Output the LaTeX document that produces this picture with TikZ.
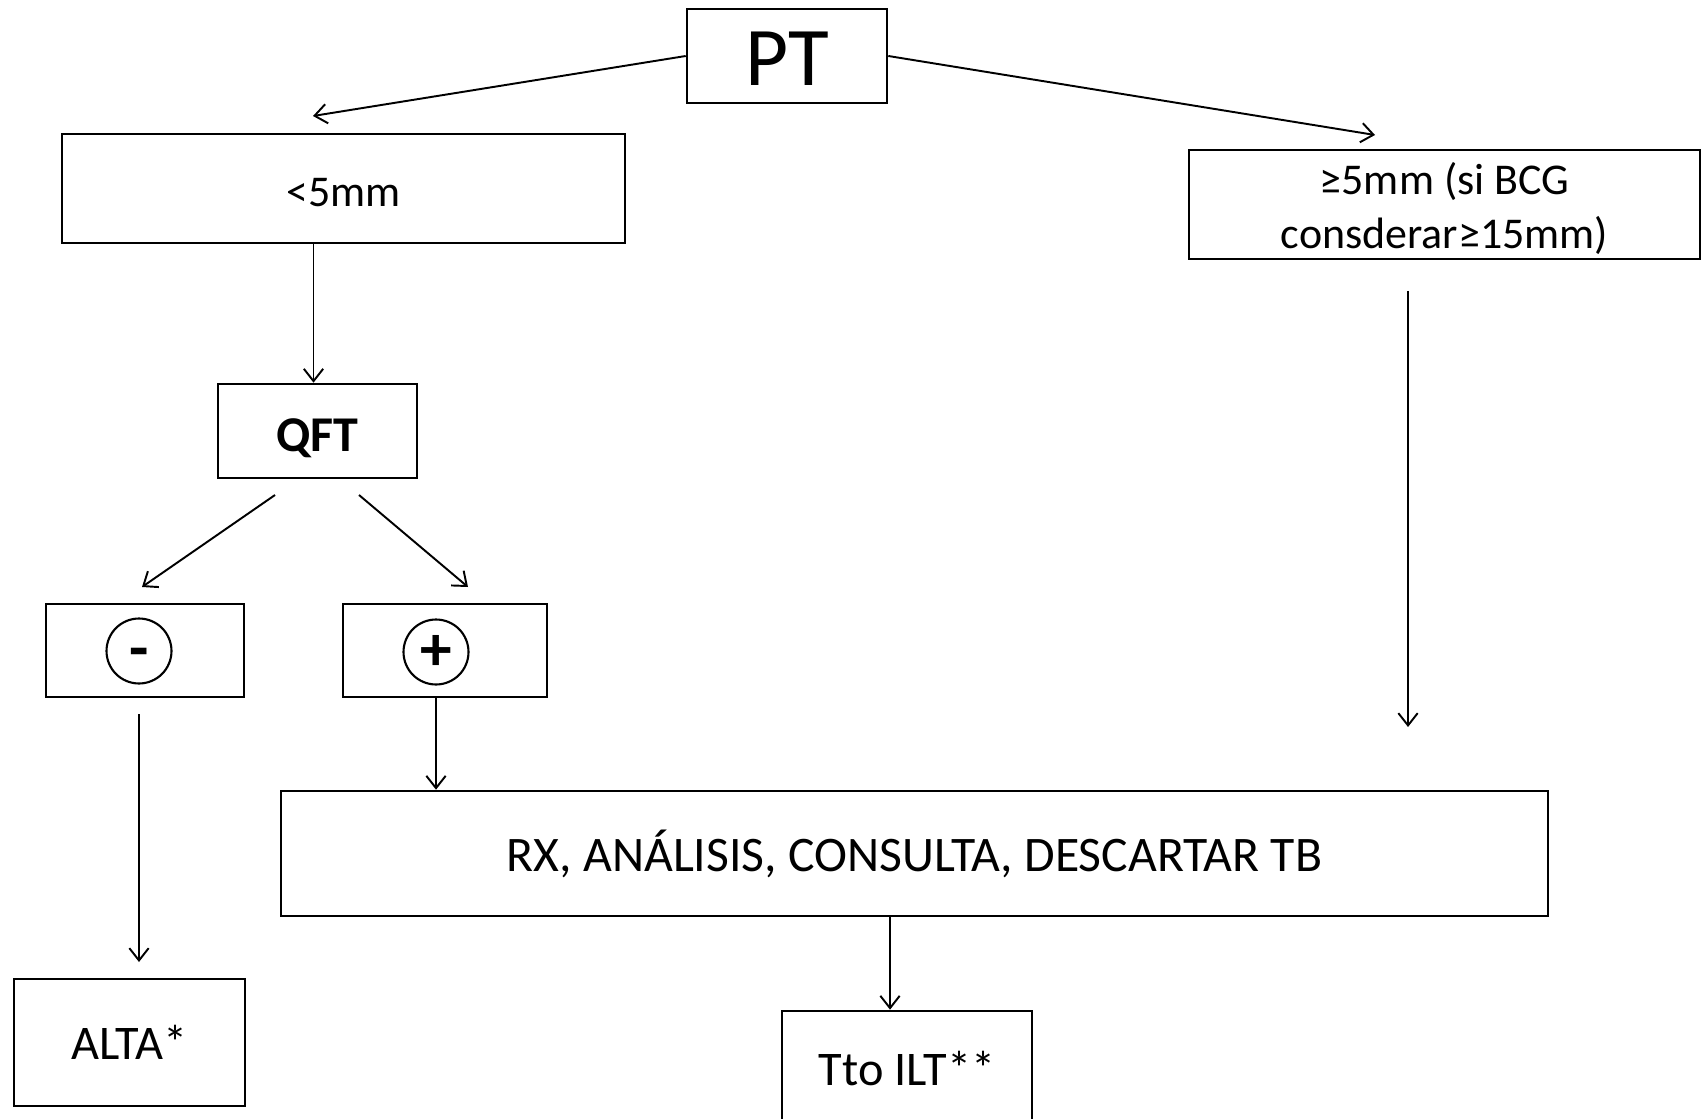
\documentclass[tikz,border=0pt]{standalone}
\usepackage{fontspec}
\setmainfont{Carlito}
\usetikzlibrary{arrows.meta}

\newcommand{\txtsize}{\fontsize{25}{30.6}\selectfont}
\newcommand{\bigsize}{\fontsize{27.5}{33}\selectfont}

\begin{document}
\begin{tikzpicture}[x=0.02cm,y=-0.02cm,
    >={Straight Barb[length=7pt,width=11pt]},
    box/.style={draw,line width=1.5pt,inner sep=0pt,align=center},
    arr/.style={->,line width=1.1pt},
    sign/.style={draw,circle,line width=1.2pt,inner sep=0pt,minimum size=1.3cm,
      text height=21.6pt,text depth=0pt,font=\fontsize{36}{36}\selectfont\bfseries}]
  \fill[white] (0,0) rectangle (1702,1118);
  \useasboundingbox (0,0) rectangle (1702,1118);

  % boxes
  \node[box,minimum width=4cm,minimum height=1.88cm,text height=33.3pt,text depth=0pt,
    font=\fontsize{47.5}{50}\selectfont] (pt) at (787,56) {PT};
  \node[box,minimum width=11.26cm,minimum height=2.18cm,text height=20pt,text depth=0pt,
    font=\txtsize] (lt5) at (343.5,188.5) {<5mm};
  \node[box,minimum width=10.22cm,minimum height=2.18cm,font=\txtsize] (ge5) at (1444.5,204.5)
    {\rule{0pt}{23pt}≥5mm (si BCG\\consderar≥15mm)};
  \node[box,minimum width=3.98cm,minimum height=1.88cm,text height=22.8pt,text depth=0pt,
    font=\fontsize{28.5}{33}\selectfont\bfseries] (qft) at (317.5,431) {QFT};
  \node[box,minimum width=3.96cm,minimum height=1.86cm] (neg) at (145,650.5) {};
  \node[box,minimum width=4.08cm,minimum height=1.86cm] (pos) at (445,650.5) {};
  \node[sign] (negsign) at (139,651) {-};
  \node[sign] (possign) at (436,652) {+};
  \node[box,minimum width=25.34cm,minimum height=2.5cm,text height=21pt,text depth=0pt,
    font=\fontsize{28.3}{33}\selectfont] (rx) at (914.5,853.5) {RX, ANÁLISIS, CONSULTA, DESCARTAR TB};
  \node[box,minimum width=4.62cm,minimum height=2.54cm,font=\bigsize] (alta) at (129.5,1042.5) {ALTA*};
  \node[box,minimum width=5cm,minimum height=2.32cm,font=\bigsize] (tto) at (907,1069) {Tto ILT**};

  % loose arrow ends
  \coordinate (ltin) at (313,116);
  \coordinate (gein) at (1375,135);
  \coordinate (geout) at (1408,291);
  \coordinate (gedown) at (1408,727);
  \coordinate (qleft) at (275,495);
  \coordinate (qright) at (359,495);
  \coordinate (negin) at (142,587);
  \coordinate (posin) at (468,587);
  \coordinate (negout) at (139,714);
  \coordinate (altain) at (139,962);

  % arrows
  \draw[arr] (pt.west) -- (ltin);
  \draw[arr] (pt.east) -- (gein);
  \draw[arr] ([xshift=-0.6cm]lt5.south) -- ([xshift=-0.6cm]lt5.south |- qft.north);
  \draw[arr] (geout) -- (gedown);
  \draw[arr] (qleft) -- (negin);
  \draw[arr] (qright) -- (posin);
  \draw[arr] (negout) -- (altain);
  \draw[arr] ([xshift=-0.18cm]pos.south) -- ([xshift=-0.18cm]pos.south |- rx.north);
  \draw[arr] ([xshift=-0.34cm]tto.north |- rx.south) -- ([xshift=-0.34cm]tto.north);
\end{tikzpicture}
\end{document}
